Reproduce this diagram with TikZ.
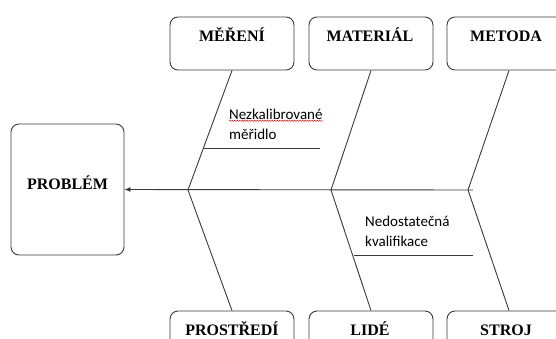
\documentclass[tikz,border=0pt]{standalone}
\usepackage{fontspec}
\setmainfont{Liberation Serif}
\newfontfamily\causefont{Carlito}
\usetikzlibrary{arrows.meta,decorations.pathmorphing}
\definecolor{ln}{HTML}{3A3A3A}
\tikzset{
  catbox/.style={draw=ln,line width=0.9pt,rounded corners=8pt,minimum width=124pt,minimum height=53pt,inner sep=0pt},
  ttl/.style={font=\bfseries\fontsize{16}{18}\selectfont,inner sep=0pt,anchor=base},
  bone/.style={draw=ln,line width=0.9pt},
  cause/.style={font=\causefont\fontsize{15}{18}\selectfont,inner sep=0pt,anchor=base west},
  spell/.style={draw=red!80!black,line width=0.4pt,decorate,decoration={snake,amplitude=0.6pt,segment length=2.5pt}}
}
\begin{document}
\begin{tikzpicture}[x=1pt,y=-1pt]
\useasboundingbox (0,0) rectangle (556,338);
\clip (0,0) rectangle (556,338);
\fill[white] (0,0) rectangle (556,338);
% problem box
\node[catbox,minimum width=113pt,minimum height=131pt] (prob) at (67.5,189.5) {};
\node[ttl] (probt) at (67.5,189) {PROBLÉM};
% top boxes
\node[catbox] (mer) at (232,43.5) {};
\node[catbox] (mat) at (371,43.5) {};
\node[catbox] (met) at (509,43.5) {};
\node[ttl] (mert) at (232,41) {MĚŘENÍ};
\node[ttl] (matt) at (370,41) {MATERIÁL};
\node[ttl] (mett) at (506,41) {METODA};
% bottom boxes
\node[catbox] (pro) at (232,337.5) {};
\node[catbox] (lid) at (371,337.5) {};
\node[catbox] (str) at (509,337.5) {};
\node[ttl] (prot) at (232,335) {PROSTŘEDÍ};
\node[ttl] (lidt) at (370,335) {LIDÉ};
\node[ttl] (strt) at (506,335) {STROJ};
% spine joints
\coordinate (j1) at (188,190);
\coordinate (j2) at (331,190);
\coordinate (j3) at (468,190);
\coordinate (e) at (473,190);
\draw[bone,-{Latex[length=6pt,width=5pt]}] (e) -- (prob.east);
% bones
\draw[bone] (j1) -- (mer.south);
\draw[bone] (j2) -- (mat.south);
\draw[bone] (j3) -- (met.south);
\draw[bone] (j1) -- (pro.north);
\draw[bone] (j2) -- (lid.north);
\draw[bone] (j3) -- (str.north);
% sub causes
\coordinate (a1) at (203.5,148);
\coordinate (a2) at (320,148);
\draw[bone] (a1) -- (a2);
\node[cause] (c1a) at (229,119) {Nezkalibrované};
\node[cause] (c1b) at (229,139.5) {měřidlo};
\draw[spell] (c1a.south west) ++(0,1.5) -- ++(94,0);
\coordinate (b1) at (354,255);
\coordinate (b2) at (473,255);
\draw[bone] (b1) -- (b2);
\node[cause] (c2a) at (365,226) {Nedostatečná};
\node[cause] (c2b) at (365,246.5) {kvalifikace};
\end{tikzpicture}
\end{document}
